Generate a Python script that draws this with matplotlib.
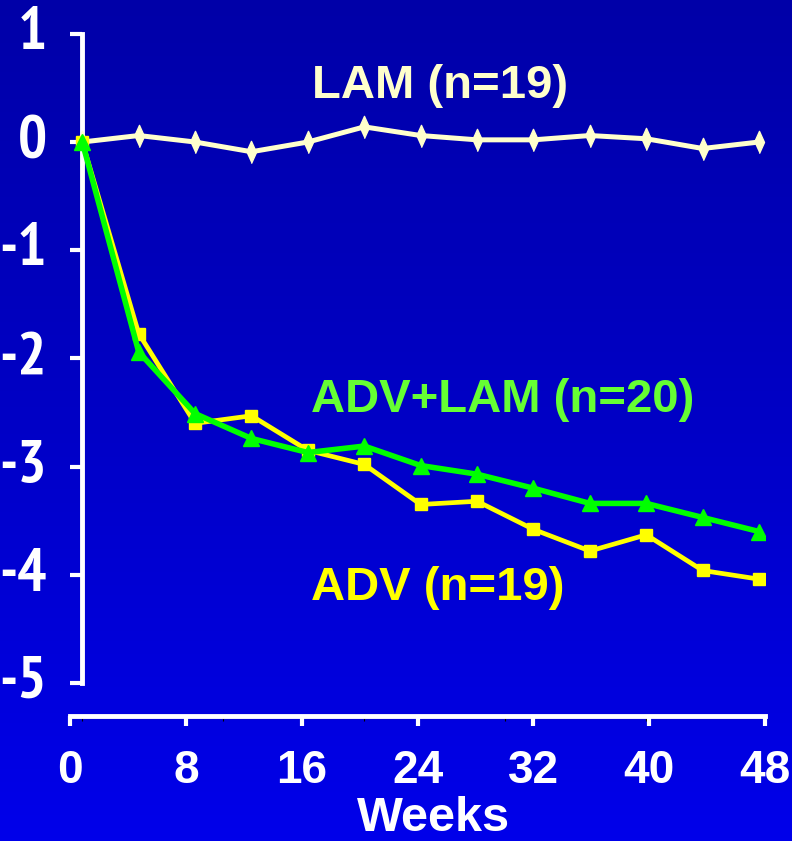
import matplotlib
matplotlib.use("Agg")
import matplotlib.pyplot as plt
import numpy as np
from matplotlib.colors import LinearSegmentedColormap

# data: change from baseline vs weeks
weeks = [0, 4, 8, 12, 16, 20, 24, 28, 32, 36, 40, 44, 48]
lam = [0.0, 0.06, 0.0, -0.09, 0.0, 0.14, 0.06, 0.02, 0.02, 0.06, 0.03, -0.06, 0.0]
adv = [0.0, -1.77, -2.6, -2.53, -2.85, -2.98, -3.35, -3.32, -3.58, -3.78, -3.63, -3.96, -4.04]
adv_lam = [0.0, -1.94, -2.51, -2.74, -2.87, -2.81, -2.99, -3.07, -3.2, -3.34, -3.34, -3.47, -3.6]

x_ticks = [0, 8, 16, 24, 32, 40, 48]
y_ticks = [-5, -4, -3, -2, -1, 0, 1]
y_ticklabels = ['-5', '-4', '-3', '-2', '-1', '0', '1']

LAM_COL = '#FFFFCC'
ADV_COL = '#FFFF00'
COMBO_COL = '#00FF00'
COMBO_TXT = '#66FF33'

fig = plt.figure(figsize=(7.92, 8.41), dpi=100)

# blue gradient background
bg = fig.add_axes([0, 0, 1, 1], zorder=-10)
cmap = LinearSegmentedColormap.from_list('bg', ['#0000A8', '#0000C6', '#0000EA'])
bg.imshow(np.linspace(0, 1, 256).reshape(-1, 1), aspect='auto', cmap=cmap,
          extent=[0, 1, 0, 1])
bg.axis('off')

ax = fig.add_axes([0.0884, 0.1486, 0.8775, 0.8498])
ax.patch.set_alpha(0)
ax.set_xlim(-0.872, 48.42)
ax.set_ylim(-5.305, 1.3)

diamond = [(-0.45, 0), (0, 1), (0.45, 0), (0, -1)]
ax.plot(weeks, lam, color=LAM_COL, lw=3.6, marker=diamond, ms=16,
        mec=LAM_COL, mfc=LAM_COL, zorder=3)
ax.plot(weeks, adv, color=ADV_COL, lw=3.4, marker='s', ms=9,
        mec=ADV_COL, mfc=ADV_COL, zorder=4)
ax.plot(weeks, adv_lam, color=COMBO_COL, lw=4, marker='^', ms=11,
        mec=COMBO_COL, mfc=COMBO_COL, zorder=5)

lab = dict(fontfamily='Liberation Sans', fontweight='bold', fontsize=34,
           ha='left', va='baseline')
ax.text(16.3, 0.407, 'LAM (n=19)', color=LAM_COL, **lab)
ax.text(16.2, -2.495, 'ADV+LAM (n=20)', color=COMBO_TXT, **lab)
ax.text(16.2, -4.233, 'ADV (n=19)', color=ADV_COL, **lab)

# y axis
for s in ['top', 'right', 'bottom']:
    ax.spines[s].set_visible(False)
ax.spines['left'].set_position(('data', 0))
ax.spines['left'].set_bounds(-5, 1)
ax.spines['left'].set_color('white')
ax.spines['left'].set_linewidth(3.5)
ax.tick_params(axis='x', bottom=False, labelbottom=False)
ax.set_yticks(y_ticks)
ax.set_yticklabels(y_ticklabels, fontfamily='PT Sans Narrow',
                   fontweight='bold', fontsize=44, color='white')
ax.tick_params(axis='y', direction='out', length=8.5, width=3, color='white', pad=17)
for t in ax.get_yticklabels():
    t.set_verticalalignment('center')

# x axis on its own scale
ax2 = ax.twiny()
ax2.set_xlim(0, 48)
for s in ['top', 'right', 'left']:
    ax2.spines[s].set_visible(False)
ax2.spines['bottom'].set_visible(True)
ax2.spines['bottom'].set_color('white')
ax2.spines['bottom'].set_linewidth(3.5)
ax2.xaxis.set_ticks_position('bottom')
ax2.set_xticks(x_ticks)
ax2.set_xticklabels([str(t) for t in x_ticks], fontfamily='Liberation Sans',
                    fontweight='bold', fontsize=33, color='white')
ax2.tick_params(axis='x', direction='out', length=7, width=3, color='white', pad=17)

fig.text(434 / 792, 0, 'Weeks', ha='center', va='bottom', color='white',
         fontfamily='Liberation Sans', fontweight='bold', fontsize=35)

fig.savefig('out.png', dpi=100)
